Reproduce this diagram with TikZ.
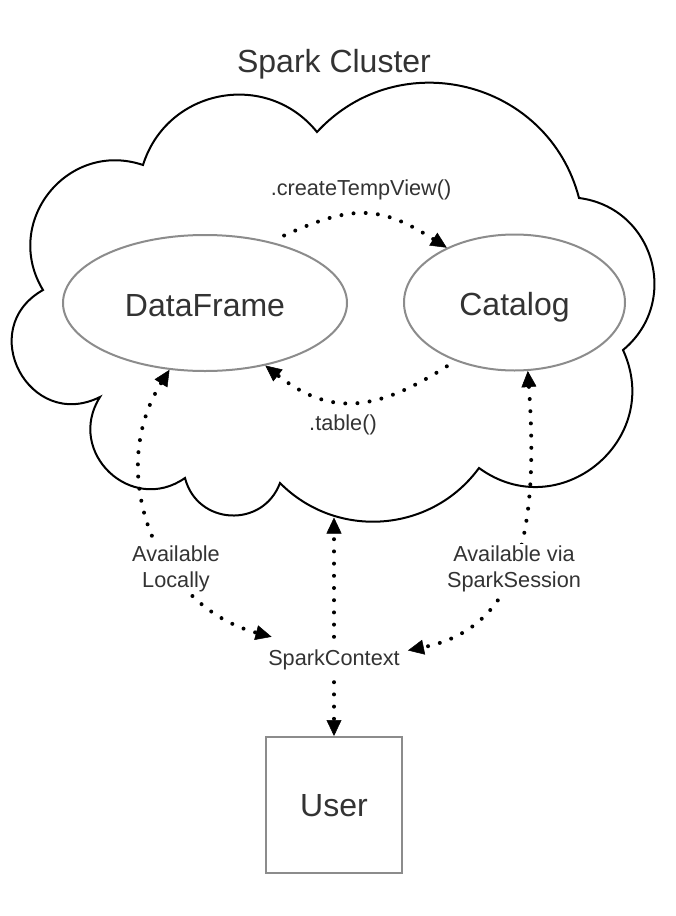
\documentclass[tikz,border=0pt]{standalone}
\usepackage{fontspec}
\setmainfont{Liberation Sans}
\usetikzlibrary{arrows.meta,shapes.geometric}
\definecolor{txt}{RGB}{51,51,51}
\definecolor{edgegray}{RGB}{140,140,140}
\begin{document}
\begin{tikzpicture}[x=1pt,y=-1pt,
  cloudline/.style={draw=black,line width=2pt,line join=miter},
  bigfont/.style={font=\fontsize{32}{38}\selectfont,text=txt},
  smallfont/.style={font=\fontsize{21.7}{25.7}\selectfont,text=txt},
  ovalbox/.style={ellipse,draw=edgegray,line width=2pt,bigfont,text height=26pt,text depth=0pt,minimum height=136pt},
  userbox/.style={rectangle,draw=edgegray,line width=2pt,bigfont,minimum size=136pt,inner sep=0pt,text height=23pt,text depth=0pt},
  dots/.style={line width=4pt,line cap=round,dash pattern=on 0pt off 12.2pt},
  arr/.style={dots,-{Triangle[length=16pt,width=15pt,line width=0.5pt]}},
  arrboth/.style={dots,{Triangle[length=16pt,width=15pt,line width=0.5pt]}-{Triangle[length=16pt,width=15pt,line width=0.5pt]}},
  lbl/.style={smallfont,align=center,fill=white,inner sep=2pt}
]
\useasboundingbox (0,0) rectangle (676,916);
\fill[white] (0,0) rectangle (676,916);

% cloud
\draw[cloudline] (43,290) .. controls (1.7,222) and (67.7,139.5) .. (143,165)
 .. controls (167.0,88.4) and (266.6,69.6) .. (317,132)
 .. controls (399.5,42.8) and (548.5,80.4) .. (579,198)
 .. controls (653.9,207.5) and (681.3,301.9) .. (623,350)
 .. controls (664.5,440.0) and (559.1,526.4) .. (479,468)
 .. controls (431.4,533.0) and (336.8,540.2) .. (280,483)
 .. controls (262.9,528.8) and (197.1,525.4) .. (185,478)
 .. controls (131.5,515.4) and (65.1,452.2) .. (100,397)
 .. controls (29.6,432.2) and (-25.6,328.8) .. cycle;

\node[bigfont,anchor=base] (title) at (334,72) {Spark Cluster};

\node[ovalbox,minimum width=284pt] (df) at (205,303) {DataFrame};
\node[ovalbox,minimum width=221pt] (cat) at (514.5,302.5) {Catalog};

\node[smallfont,anchor=base] (ctv) at (361,195) {.createTempView()};
\node[smallfont,anchor=base] (tbl) at (343,430) {.table()};

\node[smallfont,anchor=base,inner xsep=8pt,inner ysep=12pt,text height=16pt,text depth=5pt] (sc) at (334,665) {SparkContext};
\node[userbox] (user) at (334,805) {User};
\coordinate (cb) at (334,517.5);

% connectors
\draw[arr] ([yshift=10pt]df.36) .. controls +(70,-32) and +(-65.3,-41.5) .. (cat.141);
\draw[arr] ([yshift=-9pt]cat.219) .. controls +(-69,44.3) and +(66,52) .. (df.314);
\draw[arrboth] (df.242) .. controls +(-64.7,103) and +(-115,-30.8) .. (sc.160);
\draw[arrboth] (cat.281) .. controls +(12,170) and +(107,-22) .. (sc.7);
\draw[arr] (sc.north) -- (cb);
\draw[arr] (sc.south) -- (user.north);

\node[lbl] (al) at (176,569) {Available\\Locally};
\node[lbl] (as) at (514,569) {Available via\\SparkSession};
\end{tikzpicture}
\end{document}
